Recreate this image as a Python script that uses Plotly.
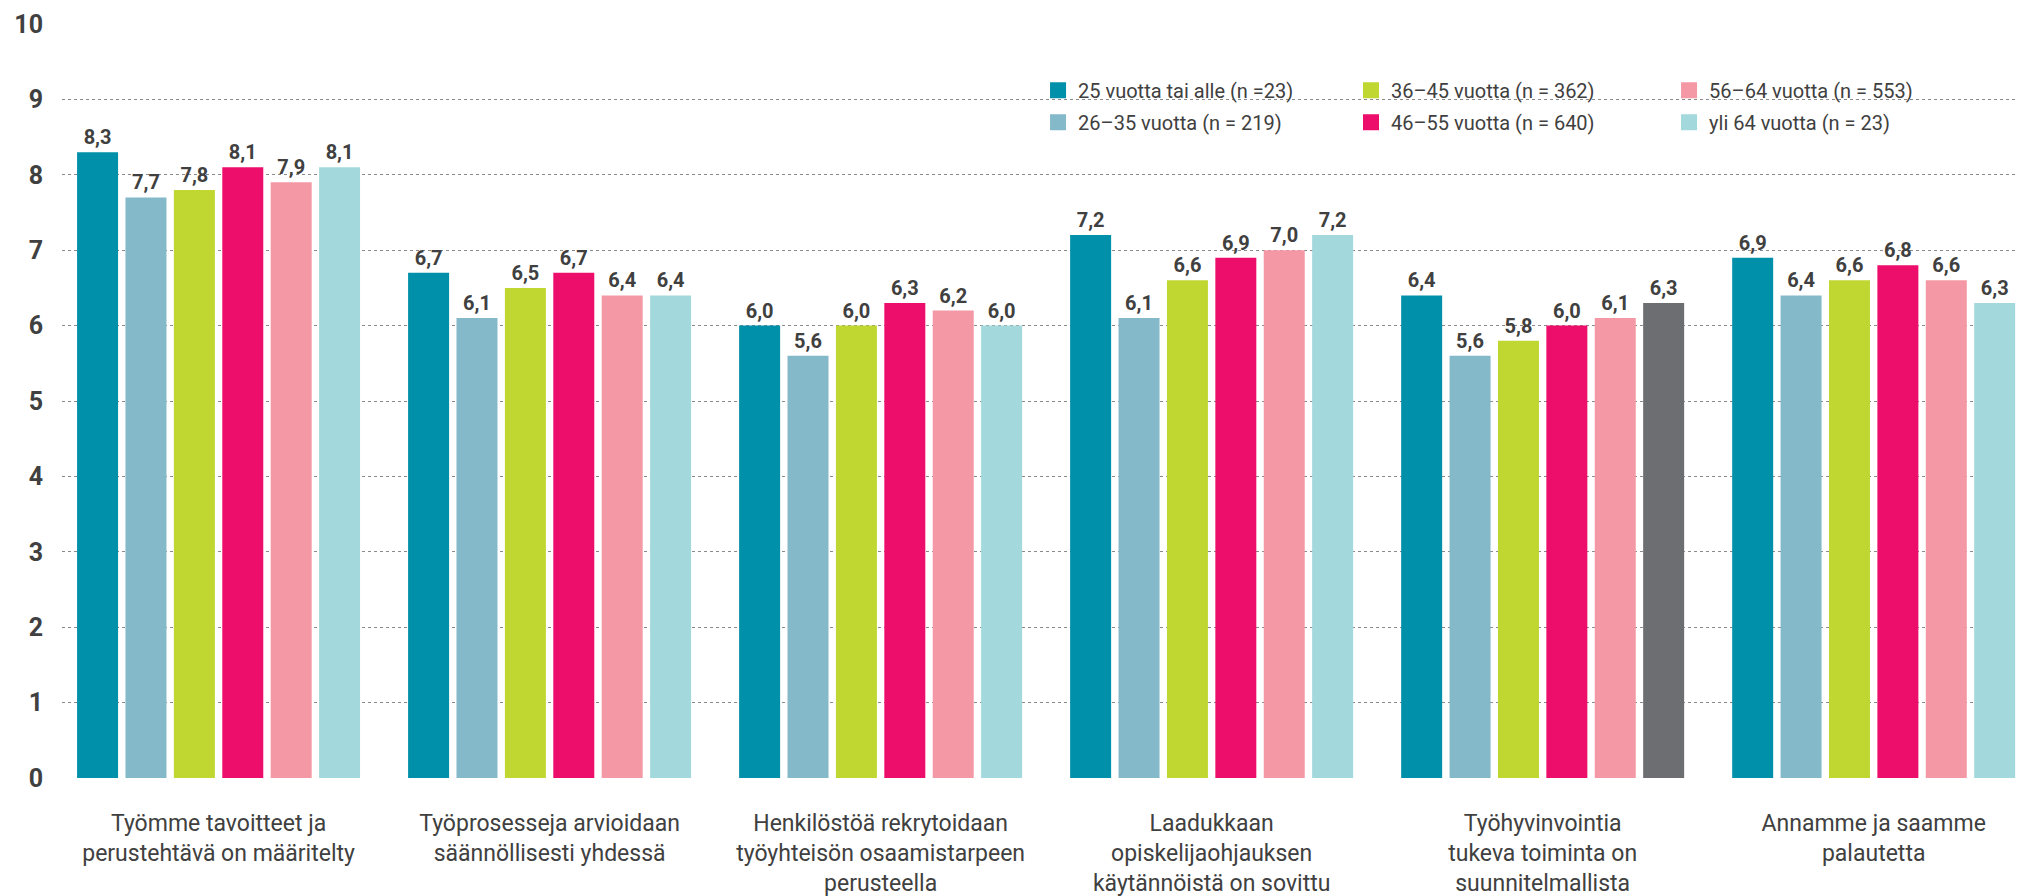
import plotly.graph_objects as go

# Survey statements (x-axis categories)
categories = [
    "Työmme tavoitteet ja<br>perustehtävä on määritelty",
    "Työprosesseja arvioidaan<br>säännöllisesti yhdessä",
    "Henkilöstöä rekrytoidaan<br>työyhteisön osaamistarpeen<br>perusteella",
    "Laadukkaan<br>opiskelijaohjauksen<br>käytännöistä on sovittu",
    "Työhyvinvointia<br>tukeva toiminta on<br>suunnitelmallista",
    "Annamme ja saamme<br>palautetta",
]

# Age groups
series_names = [
    "25 vuotta tai alle (n =23)",
    "26–35 vuotta (n = 219)",
    "36–45 vuotta (n = 362)",
    "46–55 vuotta (n = 640)",
    "56–64 vuotta (n = 553)",
    "yli 64 vuotta (n = 23)",
]

# Mean scores per age group, one value per statement
age_25_or_less = [8.3, 6.7, 6.0, 7.2, 6.4, 6.9]
age_26_35 = [7.7, 6.1, 5.6, 6.1, 5.6, 6.4]
age_36_45 = [7.8, 6.5, 6.0, 6.6, 5.8, 6.6]
age_46_55 = [8.1, 6.7, 6.3, 6.9, 6.0, 6.8]
age_56_64 = [7.9, 6.4, 6.2, 7.0, 6.1, 6.6]
age_over_64 = [8.1, 6.4, 6.0, 7.2, 6.3, 6.3]

series_values = [age_25_or_less, age_26_35, age_36_45, age_46_55, age_56_64, age_over_64]

colors = ["#0090a9", "#84b9ca", "#bfd730", "#ed0e6b", "#f498a5", "#a3d9dc"]
grey = "#6d6e71"

TEXT = "#404040"
FONT = "Roboto, sans-serif"

x_pos = list(range(len(categories)))

fig = go.Figure()

for i, (name, vals) in enumerate(zip(series_names, series_values)):
    if i == 5:
        # the oldest group is drawn in grey for the wellbeing statement
        marker_colors = [grey if k == 4 else colors[i] for k in range(len(vals))]
    else:
        marker_colors = colors[i]
    fig.add_trace(go.Bar(
        x=x_pos, y=vals, name=name,
        marker=dict(color=marker_colors, line=dict(width=0)),
        texttemplate="%{y:.1f}", textposition="outside",
        textfont=dict(family=FONT, size=20, color=TEXT, weight="bold"),
        cliponaxis=False, showlegend=False,
    ))

# Legend entries, arranged in three columns of two
legend_ids = ["legend", "legend", "legend2", "legend2", "legend3", "legend3"]
for i, name in enumerate(series_names):
    fig.add_trace(go.Scatter(
        x=[None], y=[None], mode="markers", name=name,
        marker=dict(symbol="square", size=19, color=colors[i]),
        legend=legend_ids[i], legendgroup=f"g{i}", showlegend=True,
    ))

legend_style = dict(
    orientation="v", yanchor="top", xanchor="left", y=0.938,
    bgcolor="rgba(255,255,255,0)", font=dict(family=FONT, size=20, color=TEXT),
    itemsizing="trace", tracegroupgap=3,
)

fig.update_layout(
    width=2018, height=896,
    margin=dict(l=62, r=0, t=24, b=118, autoexpand=False),
    paper_bgcolor="white", plot_bgcolor="white",
    barmode="group", bargap=0.1227, bargroupgap=0.153,
    separators=", ",
    legend=dict(x=0.499, **legend_style),
    legend2=dict(x=0.659, **legend_style),
    legend3=dict(x=0.8216, **legend_style),
    xaxis=dict(
        range=[-0.473, 5.436], tickvals=x_pos, ticktext=categories,
        showgrid=False, zeroline=False, showline=False, ticks="",
        ticklabelstandoff=29, automargin=False,
        tickfont=dict(family=FONT, size=23, color=TEXT),
    ),
    yaxis=dict(
        range=[0, 10], dtick=1, tick0=0,
        showgrid=True, gridcolor="#8a8a8a", griddash="dot", gridwidth=1,
        zeroline=False, showline=False, ticks="",
        ticklabelstandoff=18, automargin=False,
        tickfont=dict(family=FONT, size=25, color=TEXT, weight="bold"),
    ),
    shapes=[dict(
        type="rect", xref="paper", yref="paper", layer="between",
        x0=0.495, x1=0.9617, y0=0.846, y1=0.9416,
        fillcolor="white", line=dict(width=0),
    )],
)

fig.write_html("out.html")
